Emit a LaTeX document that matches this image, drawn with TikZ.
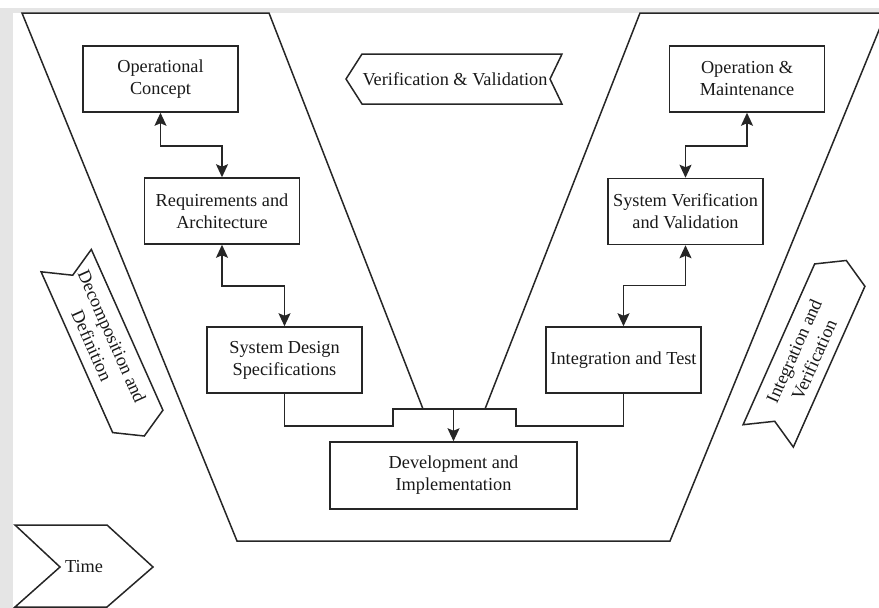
\documentclass[tikz,border=0pt]{standalone}
\usepackage{fontspec}
\setmainfont{Liberation Serif}
\usetikzlibrary{arrows.meta}
\begin{document}
\begin{tikzpicture}[x=1pt,y=-1pt,
  ink/.style={draw=black!85, line width=1.5pt},
  txt/.style={align=center, inner sep=0pt, text=black!90, font=\fontsize{18.3}{22}\selectfont},
  blk/.style={ink, txt, minimum width=155pt, minimum height=66pt},
  dbl/.style={ink, {Stealth[length=13pt,width=12pt,inset=2.5pt]}-{Stealth[length=13pt,width=12pt,inset=2.5pt]}},
  arr/.style={ink, -{Stealth[length=13pt,width=12pt,inset=2.5pt]}},
  line join=miter]

\useasboundingbox (0,0) rectangle (879,608);
\clip (0,0) rectangle (879,608);

% light frame along the top and left edges
\fill[black!10] (0,8) rectangle (879,13);
\fill[black!10] (0,8) rectangle (13,608);

% V-shaped outline of the life cycle
\draw[ink] (22,13) -- (269,13) -- (423,409) -- (485,409) -- (640,13)
  -- (886,13) -- (670,541) -- (237,541) -- cycle;

% stages
\node[blk] (op)  at (160.5,79)  {Operational\\Concept};
\node[blk] (req) at (222,211)   {Requirements and\\Architecture};
\node[blk] (sds) at (284.5,360) {System Design\\Specifications};
\node[blk, minimum width=247pt, minimum height=67pt] (dev) at (453.5,475.5) {Development and\\Implementation};
\node[blk] (int) at (623.5,360) {Integration and Test};
\node[blk] (svv) at (685.5,211.5) {System Verification\\and Validation};
\node[blk] (om)  at (747,79)    {Operation \&\\Maintenance};

% links between stages
\draw[dbl] (op.south)  -- ++(0,33) -| (req.north);
\draw[dbl] (req.south) -- ++(0,41) -| (sds.north);
\draw[dbl] (om.south)  -- ++(0,33) -| (svv.north);
\draw[dbl] (svv.south) -- ++(0,40) -| (int.north);

% both arms join above the development stage
\coordinate (jl) at (393,426);
\coordinate (jr) at (516,426);
\coordinate (jn) at (453.5,409);
\draw[ink] (sds.south) |- (jl) -- (393,409) -- (516,409) -- (jr) -| (int.south);
\draw[arr] (jn) -- (dev.north);

% direction banners
\draw[ink] (346,79) -- (362,54) -- (562,54) -- (550,79) -- (562,104) -- (362,104) -- cycle;
\node[txt] (vv) at (455,79) {Verification \& Validation};

\draw[ink] (15,525) -- (107,525) -- (153,567) -- (107,607) -- (15,607) -- (60,567) -- cycle;
\node[txt] (time) at (84,567) {Time};

\begin{scope}[shift={(102,341)}, rotate=-66]
  \draw[ink] (-88,-27.5) -- (88,-27.5) -- (104,0) -- (88,27.5) -- (-88,27.5) -- (-72,0) -- cycle;
  \node[txt, rotate=-66] (dd) at (0,0) {Decomposition and\\Definition};
\end{scope}

\begin{scope}[shift={(804,355.5)}, rotate=66]
  \draw[ink] (-88,-27.5) -- (88,-27.5) -- (104,0) -- (88,27.5) -- (-88,27.5) -- (-72,0) -- cycle;
  \node[txt, rotate=66] (iv) at (0,0) {Integration and\\Verification};
\end{scope}
\end{tikzpicture}
\end{document}
